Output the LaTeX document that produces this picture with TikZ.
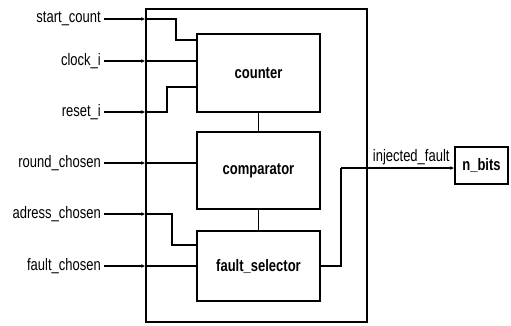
\documentclass[tikz,border=0pt]{standalone}
\usepackage{fontspec}
\setmainfont{Liberation Sans}
\usetikzlibrary{arrows.meta}
\newcommand{\tall}[1]{\scalebox{1}[1.28]{#1}}
\begin{document}
\begin{tikzpicture}[x=1pt,y=-1pt,
  blk/.style={draw, line width=1.5pt, minimum width=123pt, inner sep=0pt, font=\fontsize{13}{15}\selectfont\bfseries},
  lbl/.style={anchor=east, inner sep=1pt, font=\fontsize{13}{15}\selectfont},
  wire/.style={line width=1.5pt},
  inarr/.style={line width=1.5pt, -{Latex[length=4pt,width=4pt]}}]
\useasboundingbox (0,0) rectangle (511,325);
\node[draw, line width=1.5pt, minimum width=221pt, minimum height=313pt, inner sep=0pt] (outer) at (256.5,165.5) {};
\node[blk, minimum height=78pt] (counter) at (258.5,73) {\tall{counter}};
\node[blk, minimum height=77pt] (comparator) at (258.5,170.5) {\tall{comparator}};
\node[blk, minimum height=70pt] (fsel) at (258.5,266) {\tall{fault\_selector}};
\node[draw, line width=1.5pt, minimum width=53pt, minimum height=37pt, inner sep=0pt, font=\fontsize{13}{15}\selectfont\bfseries] (nbits) at (481.5,165.5) {\tall{n\_bits}};
\node[lbl] (sc) at (102,19) {\tall{start\_count}};
\node[lbl] (ck) at (102,61) {\tall{clock\_i}};
\node[lbl] (rs) at (102,112) {\tall{reset\_i}};
\node[lbl] (rc) at (102,163) {\tall{round\_chosen}};
\node[lbl] (ac) at (102,214) {\tall{adress\_chosen}};
\node[lbl] (fc) at (102,266) {\tall{fault\_chosen}};
\foreach \n in {sc,ck,rs,rc,ac,fc}{
  \draw[inarr] ([xshift=2pt]\n.east) -- (\n.east -| outer.west);
}
\coordinate (sca) at (176,19);
\coordinate (scb) at (176,40);
\draw[wire] (sc.east -| outer.west) -- (sca) -- (scb) -- (scb -| counter.west);
\draw[wire] (ck.east -| outer.west) -- (ck.east -| counter.west);
\coordinate (rsa) at (167,112);
\coordinate (rsb) at (167,87);
\draw[wire] (rs.east -| outer.west) -- (rsa) -- (rsb) -- (rsb -| counter.west);
\draw[wire] (rc.east -| outer.west) -- (rc.east -| comparator.west);
\coordinate (aca) at (172,214);
\coordinate (acb) at (172,245);
\draw[wire] (ac.east -| outer.west) -- (aca) -- (acb) -- (acb -| fsel.west);
\draw[wire] (fc.east -| outer.west) -- (fc.east -| fsel.west);
\draw[wire] (counter.south) -- (comparator.north);
\draw[wire] (comparator.south) -- (fsel.north);
\coordinate (oa) at (341,266);
\coordinate (ob) at (341,168);
\draw[wire] (fsel.east) -- (oa) -- (ob);
\draw[inarr] (ob) -- (ob -| nbits.west) node[pos=0.62, above=-1pt, font=\fontsize{13}{15}\selectfont] (inj) {\tall{injected\_fault}};
\end{tikzpicture}
\end{document}
